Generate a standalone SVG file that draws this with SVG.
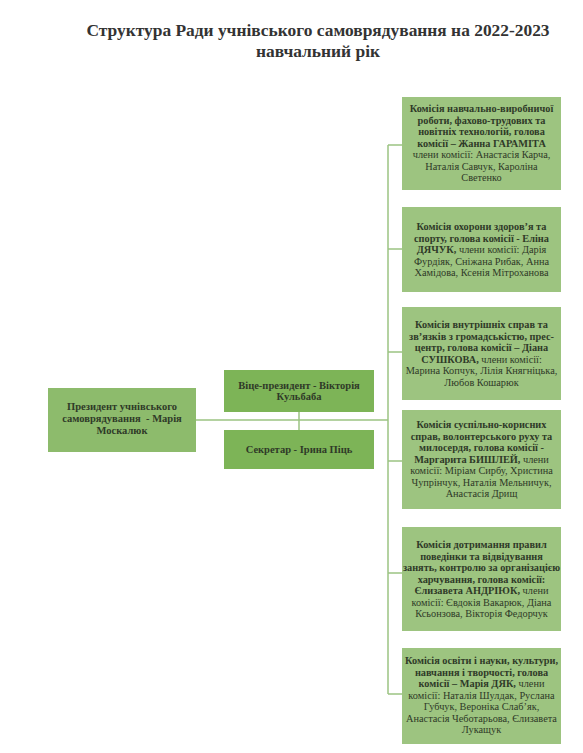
<svg xmlns="http://www.w3.org/2000/svg" width="583" height="753" viewBox="0 0 583 753">
<style>
.t{font-family:"Liberation Serif","Times New Roman",serif;fill:#2f3a28;text-anchor:middle}
.title{font-family:"Liberation Serif","Times New Roman",serif;fill:#333;font-weight:bold;font-size:17.4px;text-anchor:middle}
.b{font-weight:bold}
.s{font-size:10.3px}
.m{font-size:10.5px;font-weight:bold}
.pres{fill:#8dbb6c}
.mid{fill:#7db457}
.com{fill:#9dc480}
.c{stroke:#9cc483;stroke-width:1.5;fill:none}
</style>
<rect width="583" height="753" fill="#fff"/>
<g id="title">
<text class="title" x="318" y="36">Структура Ради учнівського самоврядування на 2022-2023</text>
<text class="title" x="318" y="57">навчальний рік</text>
</g>
<g id="connectors">
<path class="c" d="M196 420H388M299 412V430M388 145V694M388 145H402M388 249H402M388 352H402M388 461H402M388 573H402M388 694H402"/>
</g>
<g id="president">
<rect class="pres" x="48" y="388" width="148" height="64"/>
<text class="t m" x="122" y="410">Президент учнівського</text>
<text class="t m" x="122" y="422" xml:space="preserve">самоврядування  - Марія</text>
<text class="t m" x="122" y="434">Москалюк</text>
</g>
<g id="vice">
<rect class="mid" x="224" y="370" width="150" height="42"/>
<text class="t m" x="299" y="389">Віце-президент - Вікторія</text>
<text class="t m" x="299" y="400">Кульбаба</text>
</g>
<g id="secretary">
<rect class="mid" x="224" y="430" width="150" height="39"/>
<text class="t m" x="299" y="453">Секретар - Ірина Піць</text>
</g>
<g id="c1">
<rect class="com" x="402" y="97" width="159" height="93"/>
<text class="t s b" x="481.5" y="112">Комісія навчально-виробничої</text>
<text class="t s b" x="481.5" y="123.5">роботи, фахово-трудових та</text>
<text class="t s b" x="481.5" y="135">новітніх технологій, голова</text>
<text class="t s b" x="481.5" y="146.5">комісії – Жанна ГАРАМІТА</text>
<text class="t s" x="481.5" y="158">члени комісії: Анастасія Карча,</text>
<text class="t s" x="481.5" y="169.5">Наталія Савчук, Кароліна</text>
<text class="t s" x="481.5" y="181">Светенко</text>
</g>
<g id="c2">
<rect class="com" x="402" y="207" width="159" height="85"/>
<text class="t s b" x="481.5" y="230">Комісія охорони здоров’я та</text>
<text class="t s b" x="481.5" y="241.5">спорту, голова комісії - Еліна</text>
<text class="t s" x="481.5" y="253"><tspan class="b">ДЯЧУК,</tspan> члени комісії: Дарія</text>
<text class="t s" x="481.5" y="264.5">Фурдіяк, Сніжана Рибак, Анна</text>
<text class="t s" x="481.5" y="276">Хамідова, Ксенія Мітроханова</text>
</g>
<g id="c3">
<rect class="com" x="402" y="307" width="159" height="93"/>
<text class="t s b" x="481.5" y="328">Комісія внутрішніх справ та</text>
<text class="t s b" x="481.5" y="339.5">зв’язків з громадськістю, прес-</text>
<text class="t s b" x="481.5" y="351">центр, голова комісії – Діана</text>
<text class="t s" x="481.5" y="362.5"><tspan class="b">СУШКОВА,</tspan> члени комісії:</text>
<text class="t s" x="481.5" y="374">Марина Копчук, Лілія Княгніцька,</text>
<text class="t s" x="481.5" y="385.5">Любов Кошарюк</text>
</g>
<g id="c4">
<rect class="com" x="402" y="410" width="159" height="99"/>
<text class="t s b" x="481.5" y="428">Комісія суспільно-корисних</text>
<text class="t s b" x="481.5" y="439.5">справ, волонтерського руху та</text>
<text class="t s b" x="481.5" y="451">милосердя, голова комісії -</text>
<text class="t s" x="481.5" y="462.5"><tspan class="b">Маргарита БИШЛЕЙ,</tspan> члени</text>
<text class="t s" x="481.5" y="474">комісії: Міріам Сирбу, Христина</text>
<text class="t s" x="481.5" y="485.5">Чупрінчук, Наталія Мельничук,</text>
<text class="t s" x="481.5" y="497">Анастасія Дрищ</text>
</g>
<g id="c5">
<rect class="com" x="402" y="527" width="159" height="104"/>
<text class="t s b" x="481.5" y="548">Комісія дотримання правил</text>
<text class="t s b" x="481.5" y="559.5">поведінки та відвідування</text>
<text class="t s b" x="481.5" y="571">занять, контролю за організацією</text>
<text class="t s b" x="481.5" y="582.5">харчування, голова комісії:</text>
<text class="t s" x="481.5" y="594"><tspan class="b">Єлизавета АНДРІЮК,</tspan> члени</text>
<text class="t s" x="481.5" y="605.5">комісії: Євдокія Вакарюк, Діана</text>
<text class="t s" x="481.5" y="617">Ксьонзова, Вікторія Федорчук</text>
</g>
<g id="c6">
<rect class="com" x="402" y="648" width="159" height="96"/>
<text class="t s b" x="481.5" y="664">Комісія освіти і науки, культури,</text>
<text class="t s b" x="481.5" y="675.5">навчання і творчості, голова</text>
<text class="t s" x="481.5" y="687"><tspan class="b">комісії – Марія ДЯК,</tspan> члени</text>
<text class="t s" x="481.5" y="698.5">комісії: Наталія Шулдак, Руслана</text>
<text class="t s" x="481.5" y="710">Губчук, Вероніка Слаб’як,</text>
<text class="t s" x="481.5" y="721.5">Анастасія Чеботарьова, Єлизавета</text>
<text class="t s" x="481.5" y="733">Лукащук</text>
</g>
</svg>
